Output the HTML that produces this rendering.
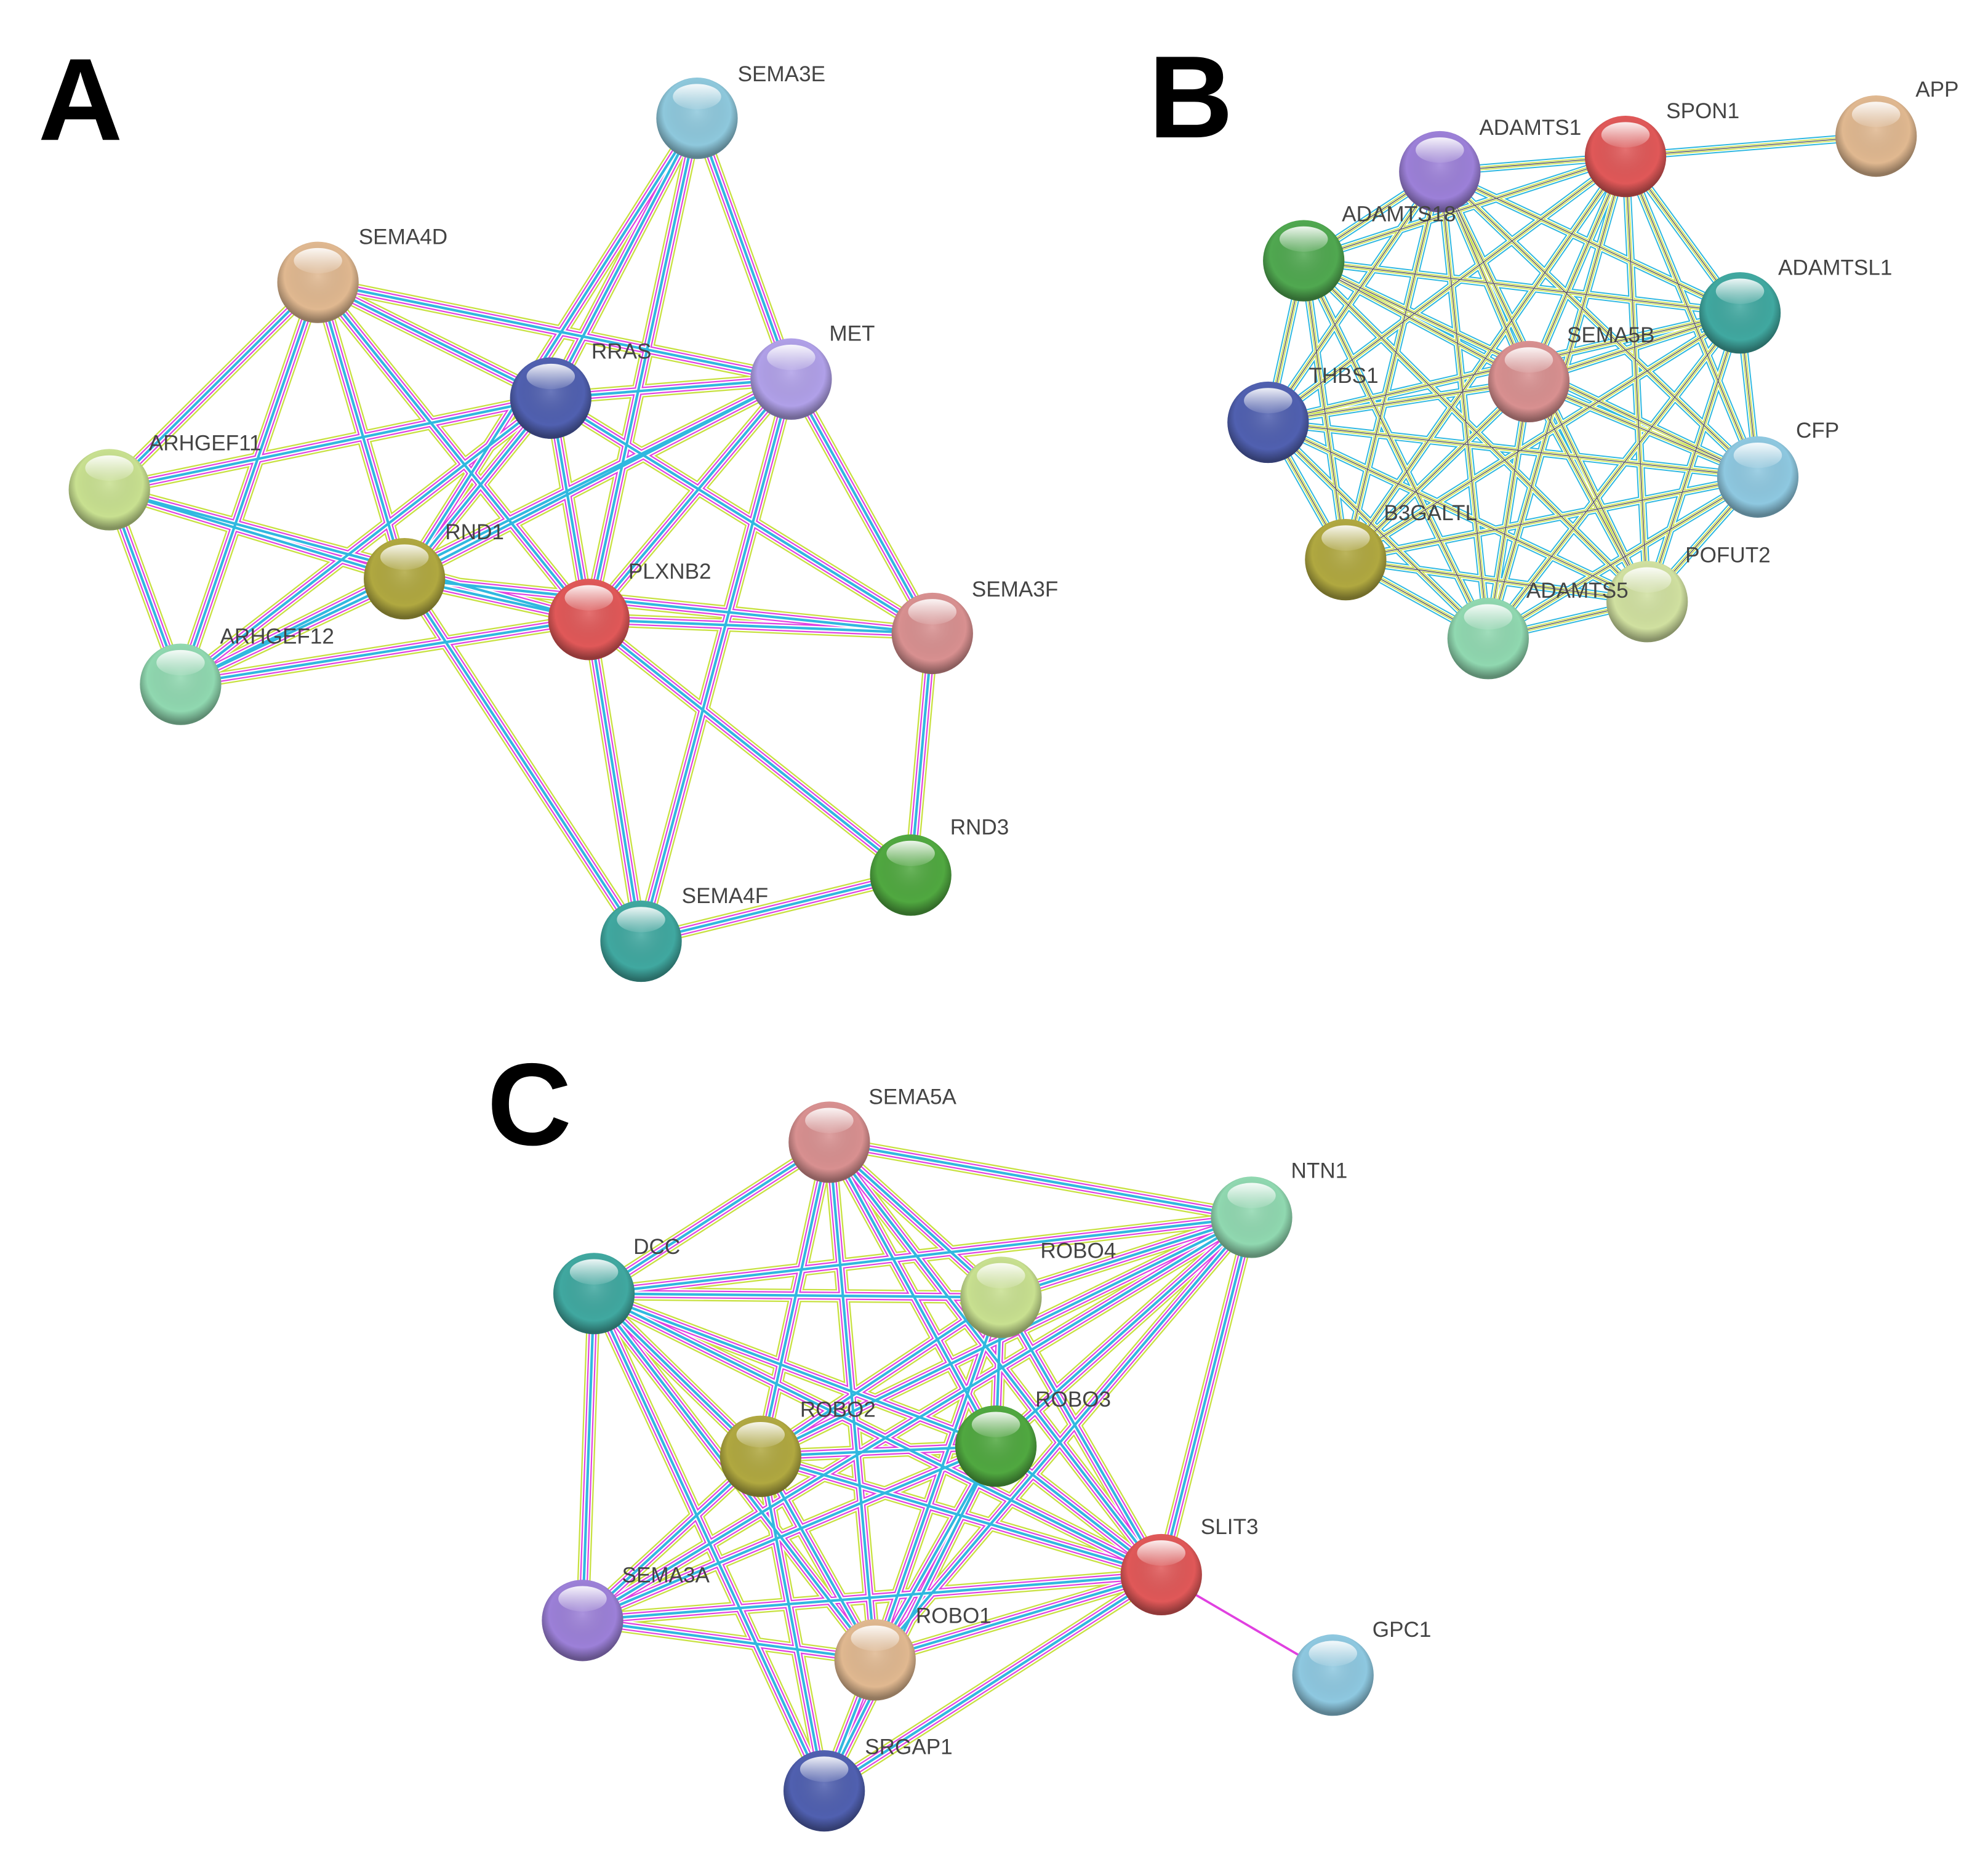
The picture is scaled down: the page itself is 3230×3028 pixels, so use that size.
<!DOCTYPE html>
<html><head><meta charset="utf-8"><style>
html,body{margin:0;padding:0;background:#fff}
svg{display:block}
text{font-family:"Liberation Sans",sans-serif}
.l{font-size:17px;fill:#444}
.big{font-size:92px;font-weight:bold;fill:#000}
</style></head><body>
<svg width="3230" height="3028" viewBox="0 0 1563 1465.5" preserveAspectRatio="none" xmlns="http://www.w3.org/2000/svg">
<defs>
<radialGradient id="sh" cx="50%" cy="42%" r="55%">
<stop offset="0" stop-color="#fff" stop-opacity="0.15"/>
<stop offset="0.75" stop-color="#000" stop-opacity="0"/>
<stop offset="1" stop-color="#000" stop-opacity="0.35"/>
</radialGradient>
<linearGradient id="hl" x1="0" y1="0" x2="0" y2="1">
<stop offset="0" stop-color="#fff" stop-opacity="0.9"/>
<stop offset="1" stop-color="#fff" stop-opacity="0.1"/>
</linearGradient>
<path id="EA" fill="none" d="
M548 93L433 313M548 93L622 298M548 93L318 455M548 93L463 487
M250 222L433 313M250 222L622 298M250 222L86 385M250 222L142 538M250 222L318 455M250 222L463 487
M433 313L622 298M433 313L86 385M433 313L318 455M433 313L463 487M433 313L142 538M433 313L733 498
M622 298L463 487M622 298L733 498M622 298L318 455M622 298L504 740M622 298L142 538
M86 385L318 455M86 385L463 487M86 385L142 538
M318 455L463 487M318 455L142 538M318 455L733 498M318 455L504 740
M463 487L142 538M463 487L733 498M463 487L504 740M463 487L716 688
M733 498L716 688M716 688L504 740"/>
<path id="EB" fill="none" d="
M1278 123L1132 135M1278 123L1025 205M1278 123L1368 246M1278 123L1202 300M1278 123L997 332M1278 123L1382 375M1278 123L1058 440M1278 123L1295 473M1278 123L1170 502
M1132 135L1025 205M1132 135L1368 246M1132 135L1202 300M1132 135L997 332M1132 135L1382 375M1132 135L1058 440M1132 135L1295 473M1132 135L1170 502
M1025 205L1368 246M1025 205L1202 300M1025 205L997 332M1025 205L1382 375M1025 205L1058 440M1025 205L1295 473M1025 205L1170 502
M1368 246L1202 300M1368 246L997 332M1368 246L1382 375M1368 246L1058 440M1368 246L1295 473M1368 246L1170 502
M1202 300L997 332M1202 300L1382 375M1202 300L1058 440M1202 300L1295 473M1202 300L1170 502
M997 332L1382 375M997 332L1058 440M997 332L1295 473M997 332L1170 502
M1382 375L1058 440M1382 375L1295 473M1382 375L1170 502
M1058 440L1295 473M1058 440L1170 502M1295 473L1170 502
M1278 123L1475 107"/>
<path id="EC" fill="none" d="
M652 898L984 957M652 898L467 1017M652 898L598 1145M652 898L783 1137M652 898L688 1305M652 898L913 1238M652 898L787 1020
M467 1017L984 957M467 1017L787 1020M467 1017L598 1145M467 1017L783 1137M467 1017L913 1238M467 1017L458 1274M467 1017L688 1305M467 1017L648 1408
M984 957L787 1020M984 957L598 1145M984 957L783 1137M984 957L913 1238M984 957L458 1274M984 957L688 1305
M787 1020L598 1145M787 1020L783 1137M787 1020L913 1238M787 1020L688 1305
M598 1145L783 1137M598 1145L913 1238M598 1145L458 1274M598 1145L688 1305M598 1145L648 1408
M783 1137L913 1238M783 1137L688 1305M783 1137L458 1274M783 1137L648 1408
M913 1238L458 1274M913 1238L688 1305M913 1238L648 1408
M458 1274L688 1305M688 1305L648 1408"/>
<path id="EG" fill="none" d="M913 1238L1048 1317"/>
</defs>
<g stroke-linecap="butt">
<g>
<use href="#EA" stroke="#c8e040" stroke-width="10.5"/>
<use href="#EA" stroke="#fff" stroke-width="8.3"/>
<use href="#EA" stroke="#e040e0" stroke-width="6.3"/>
<use href="#EA" stroke="#fff" stroke-width="4.2"/>
<use href="#EA" stroke="#30b8e0" stroke-width="2"/>
</g>
<g>
<use href="#EB" stroke="#30b8e0" stroke-width="6.5"/>
<use href="#EB" stroke="#fff" stroke-width="4.6"/>
<use href="#EB" stroke="#c8e040" stroke-width="3"/>
<use href="#EB" stroke="#fff" stroke-width="1.6"/>
<use href="#EB" stroke="#666" stroke-width="0.8"/>
</g>
<g>
<use href="#EC" stroke="#c8e040" stroke-width="10.5"/>
<use href="#EC" stroke="#fff" stroke-width="8.3"/>
<use href="#EC" stroke="#e040e0" stroke-width="6.3"/>
<use href="#EC" stroke="#fff" stroke-width="4.2"/>
<use href="#EC" stroke="#30b8e0" stroke-width="2"/>
</g>
<use href="#EG" stroke="#e040e0" stroke-width="1.8"/>
</g>
<g id="nodes">
<circle cx="548" cy="93" r="32" fill="#8ec8dc"/>
<circle cx="250" cy="222" r="32" fill="#e0b890"/>
<circle cx="433" cy="313" r="32" fill="#5060b0"/>
<circle cx="622" cy="298" r="32" fill="#b0a0e8"/>
<circle cx="86" cy="385" r="32" fill="#c8e090"/>
<circle cx="318" cy="455" r="32" fill="#b0a840"/>
<circle cx="463" cy="487" r="32" fill="#e05858"/>
<circle cx="733" cy="498" r="32" fill="#d89090"/>
<circle cx="142" cy="538" r="32" fill="#90d8b0"/>
<circle cx="716" cy="688" r="32" fill="#50a840"/>
<circle cx="504" cy="740" r="32" fill="#40a8a0"/>
<circle cx="1475" cy="107" r="32" fill="#e0b890"/>
<circle cx="1278" cy="123" r="32" fill="#e05858"/>
<circle cx="1132" cy="135" r="32" fill="#9c80d8"/>
<circle cx="1025" cy="205" r="32" fill="#50a850"/>
<circle cx="1368" cy="246" r="32" fill="#40a8a0"/>
<circle cx="1202" cy="300" r="32" fill="#d89090"/>
<circle cx="997" cy="332" r="32" fill="#5060b0"/>
<circle cx="1382" cy="375" r="32" fill="#8ec8e0"/>
<circle cx="1058" cy="440" r="32" fill="#b0a840"/>
<circle cx="1295" cy="473" r="32" fill="#d0e0a0"/>
<circle cx="1170" cy="502" r="32" fill="#90d8b0"/>
<circle cx="652" cy="898" r="32" fill="#d89090"/>
<circle cx="984" cy="957" r="32" fill="#90d8b0"/>
<circle cx="467" cy="1017" r="32" fill="#40a8a0"/>
<circle cx="787" cy="1020" r="32" fill="#c8e090"/>
<circle cx="598" cy="1145" r="32" fill="#b0a840"/>
<circle cx="783" cy="1137" r="32" fill="#50a840"/>
<circle cx="913" cy="1238" r="32" fill="#e05858"/>
<circle cx="458" cy="1274" r="32" fill="#9c80d8"/>
<circle cx="688" cy="1305" r="32" fill="#e0b890"/>
<circle cx="1048" cy="1317" r="32" fill="#8ec8e0"/>
<circle cx="648" cy="1408" r="32" fill="#5060b0"/>
</g>
<g fill="url(#sh)">
<circle cx="548" cy="93" r="32"/><circle cx="250" cy="222" r="32"/><circle cx="433" cy="313" r="32"/><circle cx="622" cy="298" r="32"/><circle cx="86" cy="385" r="32"/><circle cx="318" cy="455" r="32"/><circle cx="463" cy="487" r="32"/><circle cx="733" cy="498" r="32"/><circle cx="142" cy="538" r="32"/><circle cx="716" cy="688" r="32"/><circle cx="504" cy="740" r="32"/>
<circle cx="1475" cy="107" r="32"/><circle cx="1278" cy="123" r="32"/><circle cx="1132" cy="135" r="32"/><circle cx="1025" cy="205" r="32"/><circle cx="1368" cy="246" r="32"/><circle cx="1202" cy="300" r="32"/><circle cx="997" cy="332" r="32"/><circle cx="1382" cy="375" r="32"/><circle cx="1058" cy="440" r="32"/><circle cx="1295" cy="473" r="32"/><circle cx="1170" cy="502" r="32"/>
<circle cx="652" cy="898" r="32"/><circle cx="984" cy="957" r="32"/><circle cx="467" cy="1017" r="32"/><circle cx="787" cy="1020" r="32"/><circle cx="598" cy="1145" r="32"/><circle cx="783" cy="1137" r="32"/><circle cx="913" cy="1238" r="32"/><circle cx="458" cy="1274" r="32"/><circle cx="688" cy="1305" r="32"/><circle cx="1048" cy="1317" r="32"/><circle cx="648" cy="1408" r="32"/>
</g>
<g fill="url(#hl)">
<ellipse cx="548" cy="76" rx="19" ry="10"/><ellipse cx="250" cy="205" rx="19" ry="10"/><ellipse cx="433" cy="296" rx="19" ry="10"/><ellipse cx="622" cy="281" rx="19" ry="10"/><ellipse cx="86" cy="368" rx="19" ry="10"/><ellipse cx="318" cy="438" rx="19" ry="10"/><ellipse cx="463" cy="470" rx="19" ry="10"/><ellipse cx="733" cy="481" rx="19" ry="10"/><ellipse cx="142" cy="521" rx="19" ry="10"/><ellipse cx="716" cy="671" rx="19" ry="10"/><ellipse cx="504" cy="723" rx="19" ry="10"/>
<ellipse cx="1475" cy="90" rx="19" ry="10"/><ellipse cx="1278" cy="106" rx="19" ry="10"/><ellipse cx="1132" cy="118" rx="19" ry="10"/><ellipse cx="1025" cy="188" rx="19" ry="10"/><ellipse cx="1368" cy="229" rx="19" ry="10"/><ellipse cx="1202" cy="283" rx="19" ry="10"/><ellipse cx="997" cy="315" rx="19" ry="10"/><ellipse cx="1382" cy="358" rx="19" ry="10"/><ellipse cx="1058" cy="423" rx="19" ry="10"/><ellipse cx="1295" cy="456" rx="19" ry="10"/><ellipse cx="1170" cy="485" rx="19" ry="10"/>
<ellipse cx="652" cy="881" rx="19" ry="10"/><ellipse cx="984" cy="940" rx="19" ry="10"/><ellipse cx="467" cy="1000" rx="19" ry="10"/><ellipse cx="787" cy="1003" rx="19" ry="10"/><ellipse cx="598" cy="1128" rx="19" ry="10"/><ellipse cx="783" cy="1120" rx="19" ry="10"/><ellipse cx="913" cy="1221" rx="19" ry="10"/><ellipse cx="458" cy="1257" rx="19" ry="10"/><ellipse cx="688" cy="1288" rx="19" ry="10"/><ellipse cx="1048" cy="1300" rx="19" ry="10"/><ellipse cx="648" cy="1391" rx="19" ry="10"/>
</g>
<g class="l">
<text x="580" y="64" class="l">SEMA3E</text>
<text x="282" y="192" class="l">SEMA4D</text>
<text x="465" y="282" class="l">RRAS</text>
<text x="652" y="268" class="l">MET</text>
<text x="117" y="354" class="l">ARHGEF11</text>
<text x="350" y="424" class="l">RND1</text>
<text x="494" y="455" class="l">PLXNB2</text>
<text x="764" y="469" class="l">SEMA3F</text>
<text x="173" y="506" class="l">ARHGEF12</text>
<text x="747" y="656" class="l">RND3</text>
<text x="536" y="710" class="l">SEMA4F</text>
<text x="1506" y="76" class="l">APP</text>
<text x="1310" y="93" class="l">SPON1</text>
<text x="1163" y="106" class="l">ADAMTS1</text>
<text x="1055" y="174" class="l">ADAMTS18</text>
<text x="1398" y="216" class="l">ADAMTSL1</text>
<text x="1232" y="269" class="l">SEMA5B</text>
<text x="1029" y="301" class="l">THBS1</text>
<text x="1412" y="344" class="l">CFP</text>
<text x="1088" y="409" class="l">B3GALTL</text>
<text x="1325" y="442" class="l">POFUT2</text>
<text x="1200" y="470" class="l">ADAMTS5</text>
<text x="683" y="868" class="l">SEMA5A</text>
<text x="1015" y="926" class="l">NTN1</text>
<text x="498" y="986" class="l">DCC</text>
<text x="818" y="989" class="l">ROBO4</text>
<text x="629" y="1114" class="l">ROBO2</text>
<text x="814" y="1106" class="l">ROBO3</text>
<text x="944" y="1206" class="l">SLIT3</text>
<text x="489" y="1244" class="l">SEMA3A</text>
<text x="720" y="1276" class="l">ROBO1</text>
<text x="1079" y="1287" class="l">GPC1</text>
<text x="680" y="1379" class="l">SRGAP1</text>
</g>
<text x="30" y="110" class="big">A</text>
<text x="903" y="108" class="big">B</text>
<text x="383" y="900" class="big">C</text>
</svg>
</body></html>
